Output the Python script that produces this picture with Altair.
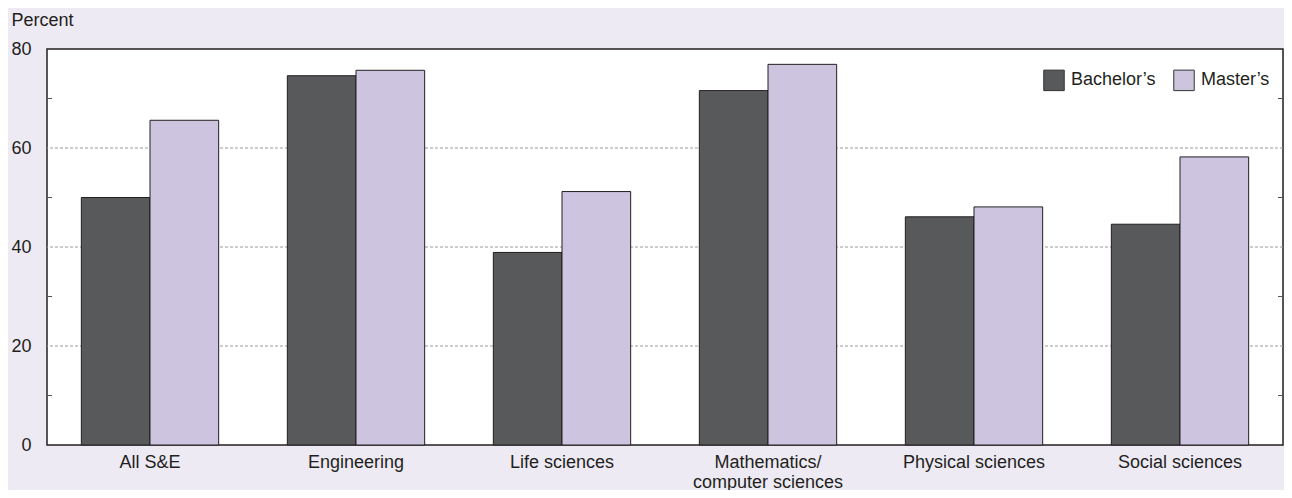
import altair as alt
import pandas as pd

categories = ["All S&E", "Engineering", "Life sciences",
              "Mathematics/\ncomputer sciences", "Physical sciences", "Social sciences"]
series = ["Bachelor’s", "Master’s"]
bachelors = [50.0, 74.6, 38.9, 71.6, 46.1, 44.6]
masters = [65.6, 75.7, 51.2, 76.9, 48.1, 58.2]
y_labels = [0, 20, 40, 60, 80]
grid_values = [20, 40, 60]
minor_ticks = [10, 30, 50, 70]

rows = []
for c, b, m in zip(categories, bachelors, masters):
    rows.append({"field": c, "degree": series[0], "value": b})
    rows.append({"field": c, "degree": series[1], "value": m})
df = pd.DataFrame(rows)

W, H = 1236, 396
FONT = "Liberation Sans"
TXT = "#231f20"

yscale = alt.Scale(domain=[0, 80], nice=False, zero=True)
yaxis = alt.Axis(values=y_labels, title="Percent", titleAngle=0,
                 titleAlign="left", titleBaseline="alphabetic",
                 titleX=-36, titleY=-24, titleFontSize=18,
                 titleFontWeight="normal", titleFont=FONT, titleColor=TXT,
                 labelFontSize=18, labelFont=FONT, labelColor=TXT,
                 labelPadding=16, ticks=False, tickSize=0, domain=False,
                 grid=False, labelFlush=False, labelOverlap=False)

grid = alt.Chart(pd.DataFrame({"value": grid_values})).mark_rule(
    color="#9a9a9a", strokeDash=[3, 2], strokeWidth=1
).encode(y=alt.Y("value:Q", scale=yscale, axis=yaxis))

bars = alt.Chart(df).mark_bar(strokeWidth=1, stroke="#231f20").encode(
    x=alt.X("field:N", sort=categories,
            scale=alt.Scale(paddingInner=1/3, paddingOuter=1/6),
            axis=alt.Axis(title=None, labelExpr="split(datum.label, '\\n')",
                          labelFontSize=18, labelFont=FONT, labelColor=TXT,
                          labelAngle=0, labelBaseline="top", labelPadding=8,
                          labelLineHeight=20, labelLimit=400, ticks=False, tickSize=0,
                          domain=False, grid=False)),
    xOffset=alt.XOffset("degree:N", sort=series,
                        scale=alt.Scale(domain=series, paddingInner=0, paddingOuter=0)),
    y=alt.Y("value:Q", scale=yscale, axis=yaxis),
    color=alt.Color("degree:N", sort=series,
                    scale=alt.Scale(domain=series, range=["#58595b", "#cdc5e0"]),
                    legend=alt.Legend(orient="none", legendX=996, legendY=20,
                                      direction="horizontal", title=None,
                                      labelFontSize=18, labelFont=FONT, labelColor=TXT,
                                      symbolType="square", symbolSize=420,
                                      labelOffset=6, columnPadding=15, padding=0,
                                      symbolStrokeWidth=1, symbolStrokeColor="#333333",
                                      symbolOpacity=1)),
)

ticks_left = alt.Chart(pd.DataFrame({"value": minor_ticks})).mark_rule(
    color="#555555", strokeWidth=1
).encode(y=alt.Y("value:Q", scale=yscale, axis=yaxis), x=alt.value(0), x2=alt.value(5))

ticks_right = alt.Chart(pd.DataFrame({"value": minor_ticks})).mark_rule(
    color="#555555", strokeWidth=1
).encode(y=alt.Y("value:Q", scale=yscale, axis=yaxis), x=alt.value(W - 5), x2=alt.value(W))

chart = alt.layer(grid, bars, ticks_left, ticks_right).properties(
    width=W, height=H,
    autosize=alt.AutoSizeParams(type="none"),
    padding={"left": 39, "top": 41, "right": 1, "bottom": 45},
).configure(
    background="#edeaf4"
).configure_view(
    fill="white", stroke="#231f20", strokeWidth=1.5
)

chart.save("out.html", embed_options={"renderer": "svg", "actions": False})
